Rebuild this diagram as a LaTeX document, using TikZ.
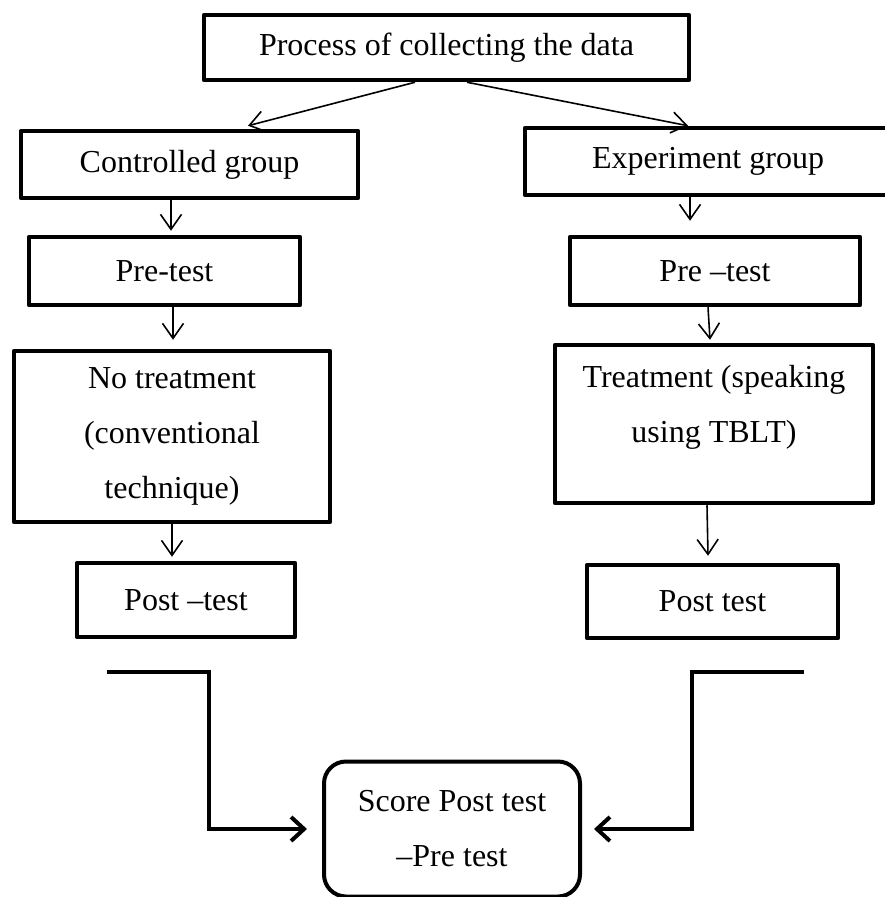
\documentclass[tikz,border=0pt]{standalone}
\usepackage{fontspec}
\setmainfont{Liberation Serif}
\usetikzlibrary{arrows.meta,calc}
\begin{document}
\begin{tikzpicture}[x=1pt,y=-1pt,
  txtfont/.style={font=\fontsize{32}{55}\selectfont},
  box/.style={draw, line width=4.5pt, rectangle, inner sep=0pt, align=center, txtfont, line join=round},
  rbox/.style={box, line width=4pt, rounded corners=22pt},
  flow/.style={line width=1.6pt, -{Straight Barb[length=15pt,width=21pt]}},
  bracket/.style={line width=4pt, line join=miter, -{Straight Barb[length=13pt,width=24pt]}}]
\useasboundingbox (0,0) rectangle (884,897);

\node[box, minimum width=485pt, minimum height=65pt] (top) at (446.5,47.5) {Process of collecting the data};
\node[box, minimum width=337pt, minimum height=67pt] (ctrl) at (189.5,164.5) {Controlled group};
\node[box, minimum width=366pt, minimum height=67pt] (exp) at (708,161.5) {Experiment group};
\node[box, minimum width=271pt, minimum height=68pt] (pre1) at (164.5,271) {Pre-test};
\node[box, minimum width=290pt, minimum height=68pt] (pre2) at (715,271) {Pre –test};
\node[box, minimum width=316pt, minimum height=171pt] (notr) at (172,436.5) {No treatment\\(conventional\\technique)};
\node[box, minimum width=318pt, minimum height=158pt] (tr) at (714,424) {};
\node[align=center, inner sep=0pt, txtfont] (trtxt) at (714,407) {Treatment (speaking\\using TBLT)};
\node[box, minimum width=218pt, minimum height=74pt] (post1) at (186,600) {Post –test};
\node[box, minimum width=251pt, minimum height=73pt] (post2) at (712.5,601.5) {Post test};
\node[rbox, minimum width=256pt, minimum height=135pt] (score) at (452,829) {Score Post test\\–Pre test};

% arrows from top box
\draw[flow] ([xshift=-31.5pt]top.south) -- ([xshift=58.5pt,yshift=3pt]ctrl.north);
\draw[flow] ([xshift=20.5pt]top.south) -- ([xshift=-20pt]exp.north);

% left chain
\draw[flow] ([xshift=-18.5pt]ctrl.south) -- ([xshift=6.5pt,yshift=4pt]pre1.north);
\draw[flow] ([xshift=8.5pt]pre1.south) -- ([xshift=1pt,yshift=9pt]notr.north);
\draw[flow] (notr.south) -- ([xshift=-14pt,yshift=4pt]post1.north);

% right chain
\draw[flow] ([xshift=-18pt]exp.south) -- ([xshift=-25pt,yshift=14pt]pre2.north);
\draw[flow] ([xshift=-7pt]pre2.south) -- ([xshift=-4pt,yshift=3pt]tr.north);
\draw[flow] ([xshift=-7pt]tr.south) -- ([xshift=-4.5pt,yshift=7pt]post2.north);

% brackets to score
\coordinate (lbA) at (107,672);
\coordinate (lbB) at (209,672);
\coordinate (rbA) at (804,672);
\coordinate (rbB) at (692,672);
\draw[bracket, shorten >=15pt] (lbA) -- (lbB) -- (lbB |- score.west) -- (score.west);
\draw[bracket, shorten >=12pt] (rbA) -- (rbB) -- (rbB |- score.east) -- (score.east);
\end{tikzpicture}
\end{document}
